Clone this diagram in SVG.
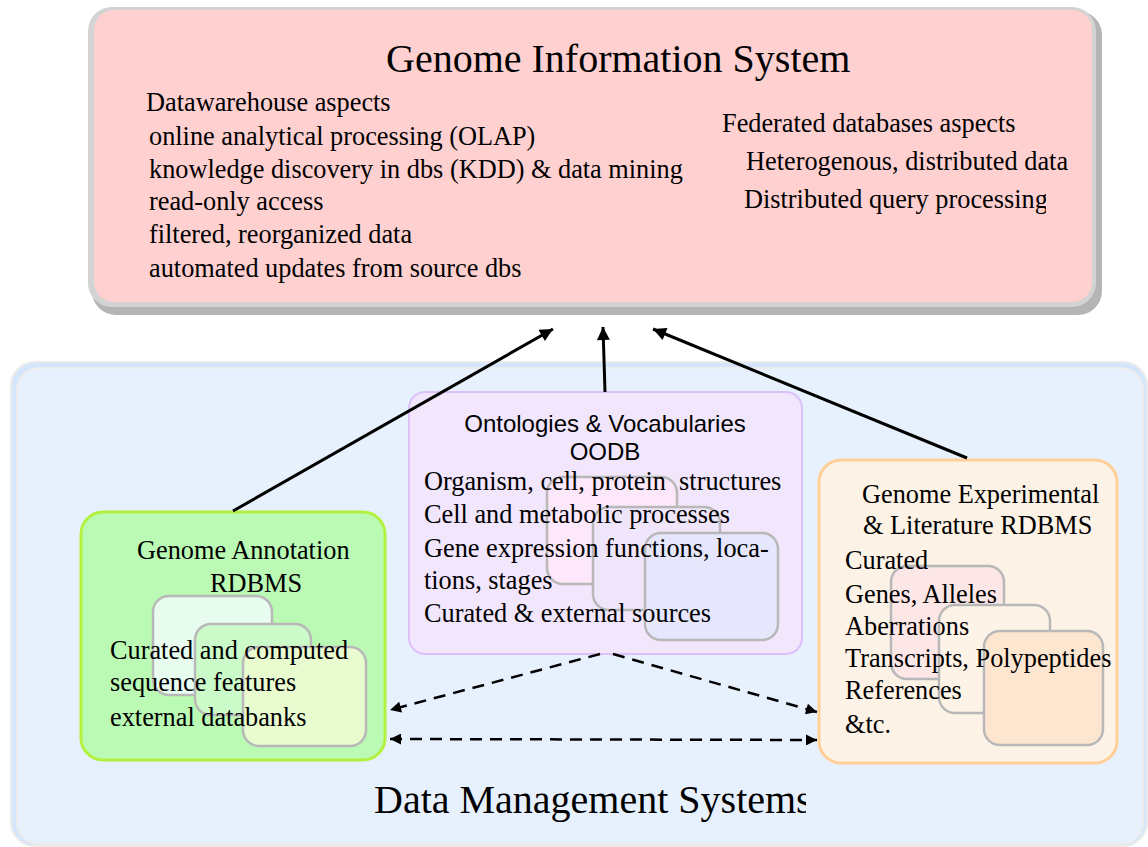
<svg xmlns="http://www.w3.org/2000/svg" width="1148" height="847" viewBox="0 0 1148 847">
<style>
.serif{font-family:"Liberation Serif","Times New Roman",serif;fill:#000}
.sans{font-family:"Liberation Sans",Arial,sans-serif;fill:#000}
.t26{font-size:26.3px}
.big{font-size:40px}
.inner{stroke:#b8b8b8;stroke-width:2.5}
.solid{stroke:#000;stroke-width:3;fill:none}
.dash{stroke:#000;stroke-width:2.5;fill:none;stroke-dasharray:12 8}
</style>
<defs>
<marker id="ah" viewBox="0 0 10 10" refX="10" refY="5" markerWidth="18" markerHeight="13" markerUnits="userSpaceOnUse" orient="auto-start-reverse"><path d="M0,0 L10,5 L0,10 z" fill="#000"/></marker>
<marker id="ahs" viewBox="0 0 10 10" refX="10" refY="5" markerWidth="15" markerHeight="11" markerUnits="userSpaceOnUse" orient="auto-start-reverse"><path d="M0,0 L10,5 L0,10 z" fill="#000"/></marker>
<clipPath id="clipHet"><rect x="700" y="140" width="370" height="40"/></clipPath>
<clipPath id="clipDqp"><rect x="700" y="180" width="346" height="40"/></clipPath>
<clipPath id="clipDms"><rect x="360" y="770" width="446" height="70"/></clipPath>
</defs>
<rect width="1148" height="847" fill="#fff"/>

<g id="genome-information-system">
<rect x="92" y="11" width="1010" height="304" rx="24" fill="#b5b5b5"/>
<rect x="88" y="7" width="1008" height="300" rx="24" fill="#d3d3d3"/>
<rect x="94" y="10" width="998" height="292" rx="20" fill="#ffd0d0"/>
<text class="serif big" x="386" y="72">Genome Information System</text>
<g class="serif t26">
<text x="146" y="111">Datawarehouse aspects</text>
<text x="149" y="145">online analytical processing (OLAP)</text>
<text x="149" y="178">knowledge discovery in dbs (KDD) &amp; data mining</text>
<text x="149" y="210">read-only access</text>
<text x="149" y="243">filtered, reorganized data</text>
<text x="149" y="277">automated updates from source dbs</text>
<text x="722" y="132">Federated databases aspects</text>
<text x="746" y="170" clip-path="url(#clipHet)">Heterogenous, distributed data</text>
<text x="744" y="208" clip-path="url(#clipDqp)">Distributed query processing</text>
</g>
</g>

<g id="data-management-systems">
<rect x="11" y="362" width="1136" height="484" rx="24" fill="#d3e6fc" stroke="#ebebeb" stroke-width="2"/>
<rect x="17" y="368" width="1126" height="476" rx="22" fill="#e7f1fd" stroke="#ececec" stroke-width="2"/>
<text class="serif big" x="374" y="813" clip-path="url(#clipDms)">Data Management Systems</text>
</g>

<g id="genome-annotation">
<rect x="81" y="512" width="304" height="248" rx="22" fill="#bbfab5" stroke="#b2f23e" stroke-width="3"/>
<rect class="inner" x="153" y="596" width="119" height="99" rx="16" fill="#e8fdf0"/>
<rect class="inner" x="195" y="624" width="116" height="91" rx="16" fill="#cbfbc8"/>
<rect class="inner" x="243" y="647" width="123" height="99" rx="16" fill="#e8fcd0"/>
<g class="serif t26">
<text x="137" y="559">Genome Annotation</text>
<text x="210" y="592">RDBMS</text>
<text x="110" y="659">Curated and computed</text>
<text x="110" y="691">sequence features</text>
<text x="110" y="726">external databanks</text>
</g>
</g>

<g id="ontologies">
<rect x="409" y="392" width="393" height="262" rx="16" fill="#f2e6fd" stroke="#dcc0fa" stroke-width="2"/>
<rect class="inner" x="547" y="477" width="130" height="107" rx="16" fill="#fde8fb"/>
<rect class="inner" x="593" y="507" width="127" height="103" rx="16" fill="#f0e6fb"/>
<rect class="inner" x="645" y="533" width="133" height="107" rx="16" fill="#e6e6fc"/>
<text class="sans" font-size="24" x="605" y="432" text-anchor="middle">Ontologies &amp; Vocabularies</text>
<text class="sans" font-size="24" x="605" y="460" text-anchor="middle">OODB</text>
<g class="serif t26">
<text x="424" y="490" xml:space="preserve">Organism, cell, protein  structures</text>
<text x="424" y="523">Cell and metabolic processes</text>
<text x="424" y="557">Gene expression functions, loca-</text>
<text x="424" y="589">tions, stages</text>
<text x="424" y="622">Curated &amp; external sources</text>
</g>
</g>

<g id="genome-experimental">
<rect x="819" y="460" width="298" height="303" rx="22" fill="#fdf2e6" stroke="#ffcf96" stroke-width="3"/>
<rect class="inner" x="891" y="566" width="113" height="113" rx="16" fill="#fde6e6"/>
<rect class="inner" x="939" y="605" width="111" height="108" rx="16" fill="#fdf3e6"/>
<rect class="inner" x="984" y="631" width="119" height="114" rx="16" fill="#fde6cf"/>
<g class="serif t26">
<text x="862" y="503">Genome Experimental</text>
<text x="863" y="534">&amp; Literature RDBMS</text>
<text x="845" y="569">Curated</text>
<text x="845" y="603">Genes, Alleles</text>
<text x="845" y="635">Aberrations</text>
<text x="845" y="667">Transcripts, Polypeptides</text>
<text x="845" y="699">References</text>
<text x="845" y="733">&amp;tc.</text>
</g>
</g>

<g id="connectors">
<line class="solid" x1="233" y1="511" x2="553" y2="329" marker-end="url(#ah)"/>
<line class="solid" x1="605" y1="392" x2="603" y2="327" marker-end="url(#ah)"/>
<line class="solid" x1="967" y1="458" x2="653" y2="329" marker-end="url(#ah)"/>
<line class="dash" x1="600" y1="654" x2="390" y2="710" marker-end="url(#ahs)"/>
<line class="dash" x1="613" y1="654" x2="817" y2="712" marker-end="url(#ahs)"/>
<line class="dash" x1="390" y1="739" x2="817" y2="740" stroke-width="3" marker-start="url(#ahs)" marker-end="url(#ahs)"/>
</g>
</svg>
